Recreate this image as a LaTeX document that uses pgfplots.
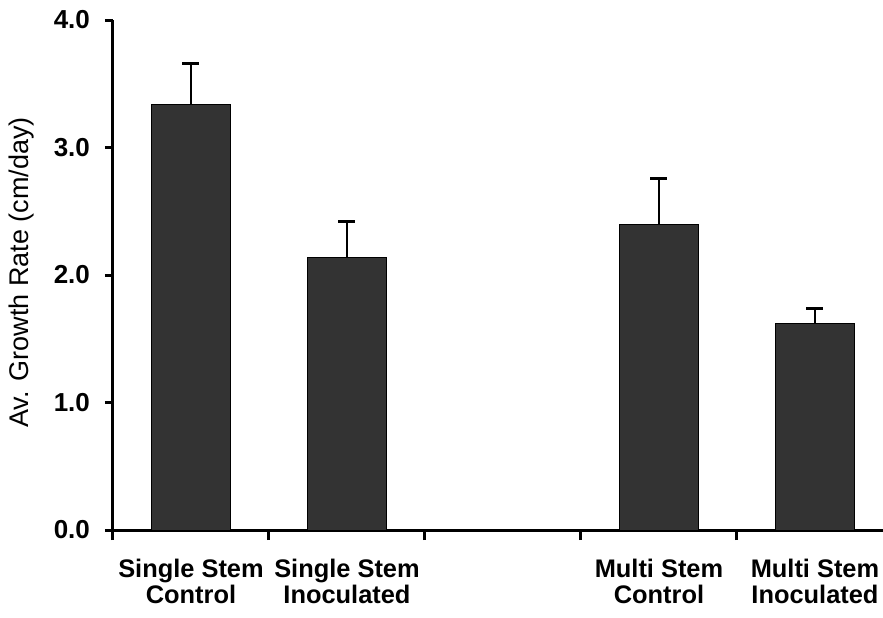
\documentclass[border=0pt]{standalone}
\usepackage{pgfplots}
\pgfplotsset{compat=1.18}
\usepackage{fontspec}
\setmainfont{Liberation Sans}
\definecolor{barfill}{HTML}{333333}
\begin{document}
\begin{tikzpicture}
\begin{axis}[
  scale only axis,
  width=385pt, height=255pt,
  xmin=-0.5, xmax=4.436,
  ymin=0, ymax=4,
  axis x line*=bottom, axis y line*=left,
  axis line style={line width=1.5pt, -},
  xtick={0,1,3,4},
  xticklabels={{Single Stem\\Control},{Single Stem\\Inoculated},{Multi Stem\\Control},{Multi Stem\\Inoculated}},
  major x tick style={draw=none},
  minor xtick={-0.5,0.5,1.5,2.5,3.5},
  minor x tick style={line width=1.5pt, black},
  minor tick length=5pt,
  tick align=outside,
  xticklabel style={font=\bfseries\fontsize{12.7}{13}\selectfont, align=center, yshift=-7pt},
  ytick={0,1,2,3,4},
  major tick length=4pt,
  y tick style={line width=1.5pt, black},
  yticklabel style={font=\bfseries\fontsize{13}{14}\selectfont, xshift=-4pt},
  /pgf/number format/assume math mode=true,
  yticklabel={\pgfmathprintnumber[fixed,fixed zerofill,precision=1]{\tick}},
  ylabel={Av. Growth Rate (cm/day)},
  ylabel style={font=\fontsize{13.5}{15}\selectfont, at={(axis description cs:0,0.505)}, anchor=center, yshift=45.5pt},
  ybar, bar width=39.5pt,
  clip=false,
]
\addplot[fill=barfill, draw=black, line width=0.5pt,
  error bars/.cd, y dir=plus, y explicit,
  error bar style={line width=1.3pt, black},
  error mark options={line width=1.5pt, mark size=4.25pt, rotate=90, black}]
  coordinates {
  (0,3.34) +- (0,0.32)
  (1,2.14) +- (0,0.28)
  (3,2.40) +- (0,0.36)
  (4,1.62) +- (0,0.12)
  };
\end{axis}
\pgfresetboundingbox
\path (-56.5pt,-43.5pt) rectangle (385pt,265pt);
\end{tikzpicture}
\end{document}
